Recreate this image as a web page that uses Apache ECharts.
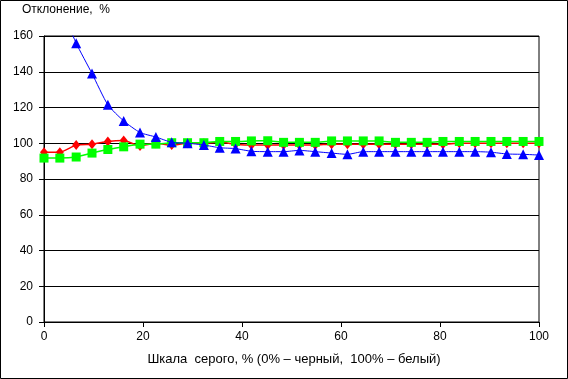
<!DOCTYPE html>
<html><head><meta charset="utf-8">
<script src="https://cdn.jsdelivr.net/npm/echarts@6/dist/echarts.min.js"></script>
<style>html,body{margin:0;padding:0;background:#fff}#c{width:568px;height:379px}</style>
</head><body><div id="c"></div>
<script>
const xValues = [0, 3.2, 6.5, 9.7, 12.9, 16.1, 19.4, 22.6, 25.8, 29.0, 32.3, 35.5, 38.7, 41.9, 45.2, 48.4, 51.6, 54.8, 58.1, 61.3, 64.5, 67.7, 71.0, 74.2, 77.4, 80.6, 83.9, 87.1, 90.3, 93.5, 96.8, 100];
const redValues = [95, 95, 99, 99.5, 101, 101.5, 98.5, 100, 99, 100, 100, 100.5, 99.5, 99, 99, 99, 99, 99, 99.5, 99.5, 99.5, 99.5, 99.5, 99.5, 99.5, 99.5, 100, 100, 100, 100, 100, 100];
const greenValues = [91.7, 91.7, 92.3, 94.5, 96.5, 98, 99.5, 99.5, 100.3, 100.3, 100.3, 101, 101, 101.3, 101.4, 100.5, 100.5, 100.5, 101.3, 101.3, 101.3, 101.3, 100.5, 100.5, 100.5, 101, 101, 101, 101, 101, 101, 101];
const blueValues = [205, 178, 156, 139, 121.5, 112.5, 106, 103.5, 100.5, 100, 99, 97.5, 97, 95.5, 95.3, 95.3, 96, 95.3, 94.5, 93.8, 95.3, 95.3, 95.3, 95.3, 95.3, 95.3, 95.3, 95.3, 95, 94, 93.8, 93.4];
const xTicks = [0, 20, 40, 60, 80, 100];
const yTicks = [0, 20, 40, 60, 80, 100, 120, 140, 160];
const yTitle = 'Отклонение,  %';
const xTitle = 'Шкала  серого, % (0% – черный,  100% – белый)';

const pairs = v => xValues.map((x, i) => [x, v[i]]);
const font = 'Liberation Sans, Arial, sans-serif';
const chart = echarts.init(document.getElementById('c'), null, {renderer: 'canvas'});
chart.setOption({
  animation: false,
  backgroundColor: '#fff',
  grid: {left: 44, right: 29, top: 36, bottom: 57, show: true, borderColor: '#000', borderWidth: 1},
  xAxis: {
    type: 'value', min: xTicks[0], max: xTicks[xTicks.length - 1], interval: 20,
    axisLine: {show: true, lineStyle: {color: '#000', width: 1}},
    axisTick: {show: true, length: 5, lineStyle: {color: '#000'}},
    axisLabel: {color: '#000', fontFamily: font, fontSize: 12, margin: 9},
    splitLine: {show: false}
  },
  yAxis: {
    type: 'value', min: yTicks[0], max: yTicks[yTicks.length - 1], interval: 20,
    axisLine: {show: true, lineStyle: {color: '#000', width: 1}},
    axisTick: {show: true, length: 5, lineStyle: {color: '#000'}},
    axisLabel: {color: '#000', fontFamily: font, fontSize: 12, margin: 11},
    splitLine: {show: true, lineStyle: {color: '#000', width: 1}}
  },
  graphic: [
    {type: 'rect', shape: {x: 0.5, y: 0.5, width: 567, height: 378}, style: {fill: 'none', stroke: '#000', lineWidth: 1}, z: 100},
    {type: 'text', left: 22, top: 4, style: {text: yTitle, fill: '#000', font: '12px ' + font}},
    {type: 'text', x: 294, y: 359, style: {text: xTitle, fill: '#000', font: '13px ' + font, textAlign: 'center', textVerticalAlign: 'middle'}}
  ],
  series: [
    {type: 'line', data: pairs(redValues), smooth: 0.2, clip: true, symbol: 'diamond', symbolSize: [8, 10],
     lineStyle: {color: '#ff0000', width: 1.5}, itemStyle: {color: '#ff0000'}, z: 2},
    {type: 'line', data: pairs(greenValues), smooth: 0.2, clip: true, symbol: 'rect', symbolSize: 9,
     lineStyle: {color: '#00ff00', width: 1.5}, itemStyle: {color: '#00ff00'}, z: 3},
    {type: 'line', data: pairs(blueValues), smooth: 0.2, clip: true, symbol: 'triangle', symbolSize: 10,
     lineStyle: {color: '#0000ff', width: 1}, itemStyle: {color: '#0000ff'}, z: 4}
  ]
});
</script></body></html>
